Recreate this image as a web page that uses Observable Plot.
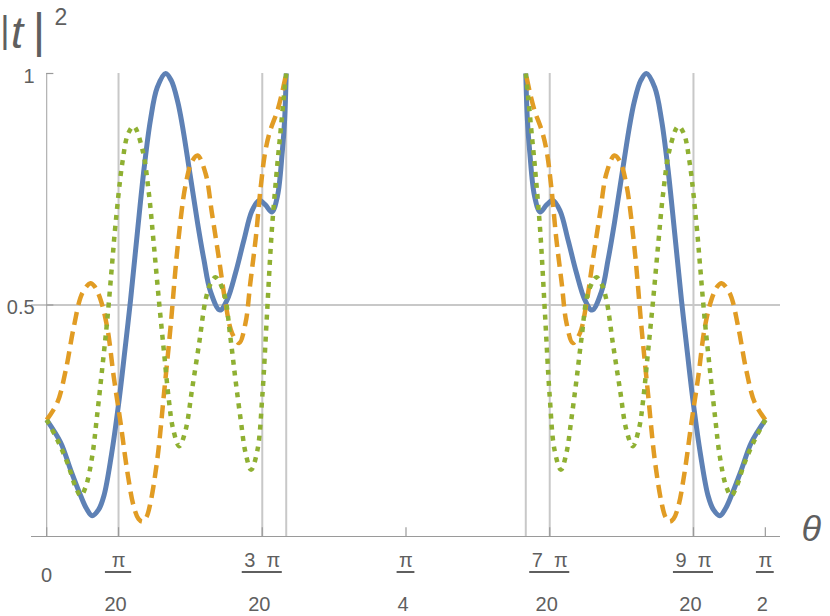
<!DOCTYPE html>
<html><head><meta charset="utf-8">
<script src="https://cdn.jsdelivr.net/npm/d3@7"></script>
<script src="https://cdn.jsdelivr.net/npm/@observablehq/plot@0.6"></script>
<style>
body{margin:0;background:#fff;}
#chart{width:830px;height:616px;}
</style>
</head><body><div id="chart"></div>
<script>
// angles in degrees (0..30 read from the left branch; the right branch 60..90 is its mirror image in the picture)
const blueDeg = [0,1.75,3.0,4.26,5.0,5.7,6.5,7.17,8.1,9.05,9.9,10.5,11.35,12.2,13.0,13.85,14.9,15.6,16.4,17.0,18.0,18.9,19.7,20.5,21.7,22.6,23.65,24.7,25.7,26.6,27.4,28.2,28.9,29.5,29.8,30.0];
const blueVal = [0.252,0.203,0.144,0.088,0.06,0.045,0.058,0.088,0.175,0.292,0.418,0.51,0.655,0.795,0.90,0.97,1.0,0.985,0.94,0.887,0.777,0.677,0.597,0.53,0.489,0.511,0.569,0.64,0.703,0.726,0.716,0.701,0.735,0.83,0.9,1.0];

const orangeDeg = [0,1.33,2.4,3.4,4.47,5.5,6.0,6.76,7.6,8.4,9.26,10.1,10.9,11.5,12.0,12.5,13.0,13.85,14.7,15.5,16.4,17.4,18.2,18.9,19.9,20.7,21.6,22.4,23.2,24.1,24.9,25.5,26.2,26.8,27.4,28.0,28.9,29.5,30.0];
const orangeVal = [0.252,0.289,0.36,0.453,0.526,0.547,0.54,0.511,0.45,0.345,0.245,0.14,0.065,0.038,0.032,0.042,0.073,0.166,0.31,0.45,0.625,0.76,0.81,0.823,0.784,0.698,0.597,0.504,0.44,0.418,0.461,0.547,0.647,0.754,0.834,0.877,0.92,0.96,1.0];

const greenDeg = [0,1.33,2.6,3.6,4.26,4.9,5.7,6.3,7.0,7.6,8.2,8.6,9.5,10.2,10.9,12.0,12.8,13.4,14.05,14.7,15.3,15.8,16.6,17.4,18.2,19.1,19.9,20.5,21.15,22.2,23.0,23.65,24.3,24.9,25.6,26.4,27.0,27.6,28.2,28.9,29.3,29.7,30.0];
const greenVal = [0.252,0.209,0.159,0.108,0.088,0.108,0.173,0.259,0.37,0.47,0.59,0.67,0.81,0.87,0.886,0.835,0.741,0.634,0.511,0.397,0.295,0.235,0.195,0.23,0.317,0.418,0.511,0.545,0.56,0.526,0.431,0.338,0.252,0.181,0.144,0.187,0.302,0.483,0.662,0.806,0.877,0.95,1.0];

const gridDeg = [9, 27, 30, 60, 63, 81];
const fracDeg = [9, 27, 45, 63, 81, 90];
const fracNum = ["π", "3\u00a0\u00a0π", "π", "7\u00a0\u00a0π", "9\u00a0\u00a0π", "π"];
const fracDen = ["20", "20", "4", "20", "20", "2"];
const zeroTick = [0];
const xTickDeg = [0, 9, 27, 45, 63, 81, 90];
const yTickVals = [0.5, 1];
const yTickLabels = ["0.5", "1"];

const seriesDefs = [
  {deg: blueDeg, val: blueVal, stroke: "#5E81B5", width: 5, dash: null},
  {deg: orangeDeg, val: orangeVal, stroke: "#E19C24", width: 4.5, dash: "13,7"},
  {deg: greenDeg, val: greenVal, stroke: "#8FB032", width: 4.5, dash: "5,6"}
];

function rowsOf(s) {
  const left = s.deg.map((d, i) => ({deg: d, v: s.val[i], part: "left"}));
  const right = s.deg.map((d, i) => ({deg: 90 - d, v: s.val[i], part: "right"}));
  return left.concat(right);
}

const font = "'Liberation Sans', Arial, sans-serif";
const gray = "#5f5f5f";

const lineMarks = seriesDefs.map(s => Plot.line(rowsOf(s), {
  x: "deg", y: "v", z: "part", stroke: s.stroke, strokeWidth: s.width,
  strokeDasharray: s.dash, curve: "catmull-rom", strokeLinecap: "butt", strokeLinejoin: "round"
}));

const plot = Plot.plot({
  width: 830, height: 616,
  marginLeft: 31, marginRight: 50, marginTop: 73, marginBottom: 80,
  x: {domain: [-1.9, 91.9], axis: null},
  y: {domain: [0, 1], axis: null},
  style: {fontFamily: font, background: "#fff"},
  marks: [
    Plot.ruleX(gridDeg, {y1: 0, y2: 1, stroke: "#c8c8c8", strokeWidth: 2}),
    Plot.ruleY([0.5], {stroke: "#c8c8c8", strokeWidth: 2}),
    Plot.ruleY([0], {stroke: "#9a9a9a", strokeWidth: 1.2}),
    Plot.ruleX([0], {y1: 0, y2: 1, stroke: "#b0b0b0", strokeWidth: 1.2}),
    Plot.ruleX(xTickDeg, {y1: 0, y2: 0.019, stroke: "#9a9a9a", strokeWidth: 1.2}),
    Plot.ruleY(yTickVals, {x1: 0, x2: 0.9, stroke: "#9a9a9a", strokeWidth: 1.2}),
    ...lineMarks,
    Plot.text(yTickVals, {x: 0, y: d => d, text: (d, i) => yTickLabels[i], dx: -12, dy: 3, textAnchor: "end", fontSize: 20, fill: gray}),
    Plot.text(zeroTick, {x: d => d, y: 0, text: d => String(d), dy: 39, fontSize: 20, fill: gray}),
    Plot.text(fracDeg, {x: d => d, y: 0, text: (d, i) => fracNum[i], dy: 24, fontSize: 20, fill: gray, className: "fnum"}),
    Plot.text(fracDeg, {x: d => d, y: 0, text: (d, i) => fracDen[i], dy: 68, dx: -3, fontSize: 20, fill: gray, className: "fden"}),
    Plot.text(["θ"], {frameAnchor: "bottom-right", text: d => d, dx: 21, dy: 4, textAnchor: "start", fontSize: 36, fontStyle: "italic", fill: gray})
  ]
});

document.getElementById("chart").appendChild(plot);

// fraction bars under the numerators, sized from the rendered label widths
const xs = plot.scale("x");
const ys = plot.scale("y");
const svg = d3.select(plot);
const numNodes = svg.selectAll("g.fnum text").nodes();
const denNodes = svg.selectAll("g.fden text").nodes();
const barG = svg.append("g").attr("stroke", gray).attr("stroke-width", 2);
fracDeg.forEach((d, i) => {
  const wn = numNodes[i] ? numNodes[i].getBBox().width : 12;
  const wd = denNodes[i] ? denNodes[i].getBBox().width : 12;
  const w = Math.max(wn, wd) + 4;
  const cx = xs.apply(d);
  const yb = ys.apply(0) + 36;
  barG.append("line").attr("x1", cx - w / 2).attr("x2", cx + w / 2).attr("y1", yb).attr("y2", yb);
});

// y-axis label |t|^2
const lab = svg.append("g").attr("fill", gray).attr("font-family", font);
lab.append("text").attr("x", 5).attr("y", 42).attr("font-size", 36).text("|");
lab.append("text").attr("x", 17).attr("y", 48).attr("font-size", 44).attr("font-style", "italic").text("t");
lab.append("text").attr("x", 39).attr("y", 47).attr("font-size", 48).text("|");
lab.append("text").attr("x", 61).attr("y", 25).attr("font-size", 23).text("2");
</script>
</body></html>
